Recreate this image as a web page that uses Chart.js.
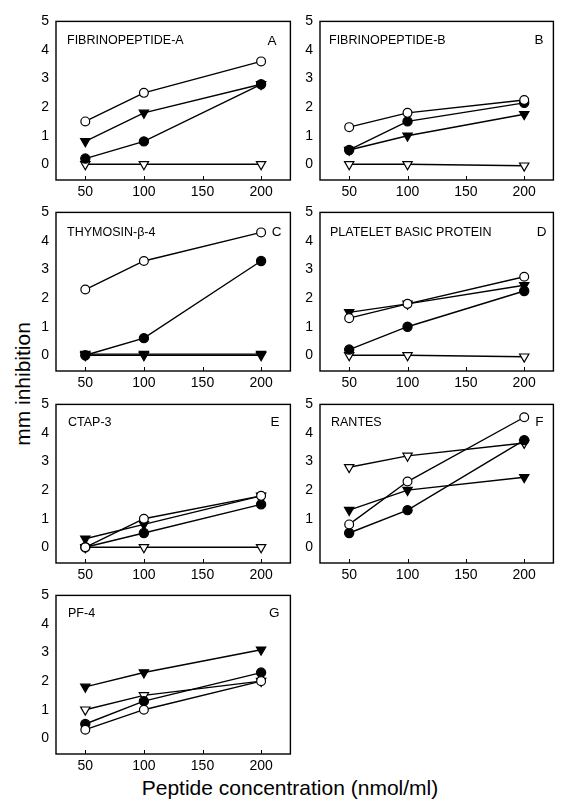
<!DOCTYPE html>
<html>
<head>
<meta charset="utf-8">
<script src="https://cdn.jsdelivr.net/npm/chart.js@4.4.0/dist/chart.umd.min.js"></script>
<style>
  body { margin: 0; background: #fff; width: 565px; height: 804px; position: relative; overflow: hidden; }
  canvas { position: absolute; }
  .ytitle { position: absolute; left: 23px; top: 384px; transform: translate(-50%, -50%) rotate(-90deg);
            font: 21px "Liberation Sans", Arial, sans-serif; white-space: nowrap; color: #000; }
  .xtitle { position: absolute; left: 290px; top: 788px; transform: translate(-50%, -50%);
            font: 21px "Liberation Sans", Arial, sans-serif; white-space: nowrap; color: #000; }
</style>
</head>
<body>
<div class="ytitle">mm inhibition</div>
<div class="xtitle">Peptide concentration (nmol/ml)</div>
<script>
// Datos comunes
const concentrations = [50, 100, 200];
const xTicks = [50, 100, 150, 200];
const yTicks = [0, 1, 2, 3, 4, 5];

const panelTitles = ['FIBRINOPEPTIDE-A', 'FIBRINOPEPTIDE-B', 'THYMOSIN-\u03B2-4', 'PLATELET BASIC PROTEIN', 'CTAP-3', 'RANTES', 'PF-4'];
const panelLetters = ['A', 'B', 'C', 'D', 'E', 'F', 'G'];

// Series por panel (open circle, filled circle, filled triangle, open triangle)
const openCircleA = [1.5, 2.5, 3.6];
const filledCircleA = [0.2, 0.8, 2.8];
const filledTriA = [0.8, 1.8, 2.8];
const openTriA = [0, 0, 0];

const openCircleB = [1.3, 1.8, 2.25];
const filledCircleB = [0.5, 1.5, 2.15];
const filledTriB = [0.5, 1.0, 1.75];
const openTriB = [0, 0, -0.05];

const openCircleC = [2.3, 3.3, 4.3];
const filledCircleC = [0, 0.6, 3.3];
const filledTriC = [0.04, 0.04, 0.04];
const openTriC = [0, 0, 0];

const openCircleD = [1.3, 1.8, 2.75];
const filledCircleD = [0.2, 1.0, 2.25];
const filledTriD = [1.5, 1.8, 2.45];
const openTriD = [0, 0, -0.05];

const openCircleE = [0, 1.0, 1.8];
const filledCircleE = [0, 0.5, 1.5];
const filledTriE = [0.3, 0.8, 1.8];
const openTriE = [0, 0, 0];

const openCircleF = [0.8, 2.3, 4.55];
const filledCircleF = [0.5, 1.3, 3.75];
const filledTriF = [1.3, 2.0, 2.45];
const openTriF = [2.8, 3.2, 3.65];

const openCircleG = [0.3, 1.0, 2.0];
const filledCircleG = [0.5, 1.3, 2.3];
const filledTriG = [1.8, 2.3, 3.1];
const openTriG = [1.0, 1.5, 2.0];

const panelSeries = [
    [openCircleA, filledCircleA, filledTriA, openTriA],
    [openCircleB, filledCircleB, filledTriB, openTriB],
    [openCircleC, filledCircleC, filledTriC, openTriC],
    [openCircleD, filledCircleD, filledTriD, openTriD],
    [openCircleE, filledCircleE, filledTriE, openTriE],
    [openCircleF, filledCircleF, filledTriF, openTriF],
    [openCircleG, filledCircleG, filledTriG, openTriG]
];

// Posición de cada recuadro
const colLeft = [56, 320];
const colRight = [291, 554];
const rowTop = [14, 205, 397, 588];
const boxHeight = 166;
const titleOffsets = [[11, 19], [9, 19], [11, 20], [10, 20], [12, 18], [11, 18], [12, 18]];
const letterOffsets = [[18, 20], [14, 19], [13, 20], [11, 20], [15, 18], [14, 18], [15, 18]];

const markerStyles = [
    { pointStyle: 'circle', radius: 4.4, bg: '#fff', rot: 0 },
    { pointStyle: 'circle', radius: 4.6, bg: '#000', rot: 0 },
    { pointStyle: 'triangle', radius: 5.4, bg: '#000', rot: 180 },
    { pointStyle: 'triangle', radius: 5.4, bg: '#fff', rot: 180 }
];

const FONT = '"Liberation Sans", Arial, sans-serif';
const PAD_L = 44, PAD_T = 8, PAD_R = 6, PAD_B = 26;

// Recuadro, marcas y rótulos del panel
const framePlugin = {
    id: 'frame',
    afterDraw(chart) {
        const { ctx, chartArea: a } = chart;
        const opts = chart.options.plugins.frame;
        ctx.save();
        ctx.strokeStyle = '#000';
        ctx.lineWidth = 1.4;
        ctx.strokeRect(a.left, a.top, a.right - a.left, a.bottom - a.top);
        const xs = chart.scales.x;
        ctx.lineWidth = 1;
        xTicks.forEach(v => {
            const px = Math.round(xs.getPixelForValue(v)) + 0.5;
            ctx.beginPath();
            ctx.moveTo(px, a.bottom);
            ctx.lineTo(px, a.bottom - 4);
            ctx.stroke();
        });
        ctx.fillStyle = '#000';
        ctx.font = '12.5px ' + FONT;
        ctx.textBaseline = 'middle';
        ctx.textAlign = 'left';
        ctx.fillText(opts.title, a.left + opts.titleOff[0], a.top + opts.titleOff[1]);
        ctx.font = '13.5px ' + FONT;
        ctx.textAlign = 'right';
        ctx.fillText(opts.letter, a.right - opts.letterOff[0] + 4, a.top + opts.letterOff[1]);
        ctx.restore();
    }
};

panelTitles.forEach((title, i) => {
    const col = i % 2;
    const row = Math.floor(i / 2);
    const boxW = colRight[col] - colLeft[col];
    const canvas = document.createElement('canvas');
    canvas.style.left = (colLeft[col] - PAD_L) + 'px';
    canvas.style.top = (rowTop[row] - PAD_T) + 'px';
    canvas.style.width = (boxW + PAD_L + PAD_R) + 'px';
    canvas.style.height = (boxHeight + PAD_T + PAD_B) + 'px';
    canvas.width = boxW + PAD_L + PAD_R;
    canvas.height = boxHeight + PAD_T + PAD_B;
    document.body.appendChild(canvas);

    const datasets = panelSeries[i].map((vals, k) => {
        const m = markerStyles[k];
        return {
            data: concentrations.map((c, j) => ({ x: c, y: vals[j] })),
            borderColor: '#000',
            borderWidth: 1.4,
            tension: 0,
            pointStyle: m.pointStyle,
            pointRadius: m.radius,
            pointRotation: m.rot,
            pointBackgroundColor: m.bg,
            pointBorderColor: '#000',
            pointBorderWidth: 1.2
        };
    });

    new Chart(canvas.getContext('2d'), {
        type: 'line',
        data: { datasets },
        options: {
            responsive: false,
            animation: false,
            devicePixelRatio: 1,
            layout: { padding: { top: PAD_T, right: PAD_R, left: 0, bottom: 0 } },
            scales: {
                x: {
                    type: 'linear',
                    min: 25,
                    max: 225,
                    afterBuildTicks: s => { s.ticks = xTicks.map(v => ({ value: v })); },
                    afterFit: s => { s.height = PAD_B; },
                    grid: { display: false, drawTicks: false },
                    border: { display: false },
                    ticks: { color: '#000', font: { size: 14, family: FONT }, padding: 4, maxRotation: 0 }
                },
                y: {
                    min: -0.55,
                    max: 5,
                    afterBuildTicks: s => { s.ticks = yTicks.map(v => ({ value: v })); },
                    afterFit: s => { s.width = PAD_L; },
                    grid: { display: false, drawTicks: false },
                    border: { display: false },
                    ticks: { color: '#000', font: { size: 14, family: FONT }, padding: 7 }
                }
            },
            plugins: {
                legend: { display: false },
                tooltip: { enabled: false },
                frame: { title: title, letter: panelLetters[i], titleOff: titleOffsets[i], letterOff: letterOffsets[i] }
            }
        },
        plugins: [framePlugin]
    });
});
</script>
</body>
</html>
